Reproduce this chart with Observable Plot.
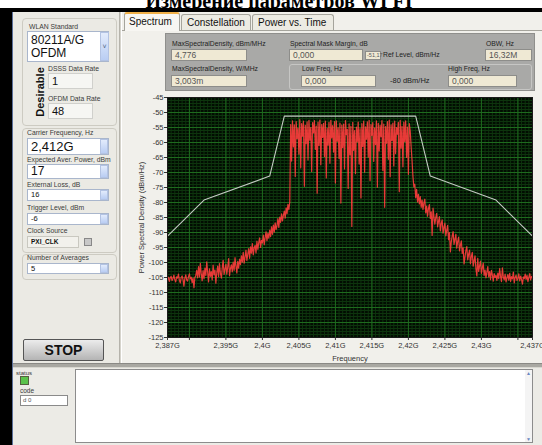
<!DOCTYPE html>
<html><head><meta charset="utf-8">
<script src="https://cdn.jsdelivr.net/npm/d3@7"></script>
<script src="https://cdn.jsdelivr.net/npm/@observablehq/plot@0.6"></script>
<style>
html,body{margin:0;padding:0}
body{width:542px;height:445px;overflow:hidden;position:relative;background:#ecebe6;font-family:"Liberation Sans",Arial,sans-serif;color:#222}
.a{position:absolute;box-sizing:border-box}
.l{position:absolute;font-size:6.8px;line-height:8px;color:#3a3a3a;white-space:nowrap}
.f{position:absolute;box-sizing:border-box;background:#fff;border:1px solid #a9b6cc;white-space:nowrap;overflow:hidden;color:#111;padding-left:3px}
.g{position:absolute;box-sizing:border-box;background:#efe9d4;border:1px solid #8d8d8a;font-size:8.5px;line-height:10px;padding-left:3px;color:#555;white-space:nowrap}
.spin{position:absolute;box-sizing:border-box;background:linear-gradient(#e3ecfc,#b9cdf3);border:1px solid #b3c3e3}
.tab{position:absolute;box-sizing:border-box;font-size:10px;line-height:15px;white-space:nowrap;color:#111;border:1px solid #a5a49c;border-bottom:none;border-radius:3px 3px 0 0}
</style></head><body>
<div class="a" style="left:0;top:0;width:542px;height:9px;background:#fff"></div>
<div class="a" style="left:8px;top:-9px;width:542px;height:20px;text-align:center;font:bold 20px/20px 'Liberation Serif',serif;color:#000;white-space:nowrap">Измерение параметров WI FI</div>
<div class="a" style="left:0;top:8px;width:542px;height:4px;background:#000"></div>
<div class="a" style="left:0;top:8px;width:12px;height:437px;background:#000"></div>
<div class="a" style="left:12px;top:12px;width:1px;height:433px;background:#5a6f9a"></div>

<div class="a" style="left:13px;top:12px;width:106px;height:351px;background:#ebeae4"></div>
<div class="a" style="left:119px;top:12px;width:3px;height:351px;background:#d6d4cc;border-left:1px solid #b5b3ab;border-right:1px solid #fff"></div>
<div class="a" style="left:122px;top:12px;width:420px;height:351px;background:#f1f0eb"></div>

<div class="a" style="left:22px;top:18px;width:95px;height:108px;border:1px solid #cdcbc2;border-radius:4px"></div>
<div class="a" style="left:22px;top:128px;width:95px;height:125px;border:1px solid #cdcbc2;border-radius:4px"></div>
<div class="a" style="left:22px;top:254px;width:95px;height:26px;border:1px solid #cdcbc2;border-radius:4px"></div>

<div class="l" style="left:29px;top:23px">WLAN Standard</div>
<div class="f" style="left:27px;top:31px;width:82px;height:31px;font-size:12px;line-height:13px;padding-top:2px">80211A/G<br>OFDM</div>
<div class="spin" style="left:100px;top:32px;width:9px;height:29px;font-size:7px;line-height:27px;text-align:center;color:#4d6185">˅</div>
<div class="a" style="left:9px;top:86px;width:62px;height:12px;transform:rotate(-90deg);text-align:center;font:bold 11px/12px 'Liberation Sans',Arial,sans-serif;color:#111">Desirable</div>
<div class="l" style="left:48px;top:65px">DSSS Data Rate</div>
<div class="f" style="left:48px;top:73px;width:45px;height:16px;background:#f6f6f3;border-color:#d0d0cc;font-size:11px;line-height:14px">1</div>
<div class="l" style="left:48px;top:95px">OFDM Data Rate</div>
<div class="f" style="left:48px;top:103px;width:45px;height:16px;background:#f6f6f3;border-color:#d0d0cc;font-size:11px;line-height:14px">48</div>

<div class="l" style="left:27px;top:129px">Carrier Frequency, Hz</div>
<div class="f" style="left:27px;top:138px;width:82px;height:17px;font-size:13px;line-height:15px">2,412G</div>
<div class="spin" style="left:100px;top:139px;width:8px;height:15px"></div>
<div class="l" style="left:27px;top:156px">Expected Aver. Power, dBm</div>
<div class="f" style="left:27px;top:164px;width:82px;height:15px;font-size:12px;line-height:13px">17</div>
<div class="spin" style="left:100px;top:165px;width:8px;height:13px"></div>
<div class="l" style="left:27px;top:181px">External Loss, dB</div>
<div class="f" style="left:27px;top:189px;width:82px;height:12px;font-size:7.5px;line-height:10px">16</div>
<div class="spin" style="left:100px;top:190px;width:8px;height:10px"></div>
<div class="l" style="left:27px;top:204px">Trigger Level, dBm</div>
<div class="f" style="left:27px;top:213px;width:82px;height:12px;font-size:7.5px;line-height:10px">-6</div>
<div class="spin" style="left:100px;top:214px;width:8px;height:10px"></div>
<div class="l" style="left:27px;top:227px">Clock Source</div>
<div class="f" style="left:27px;top:236px;width:52px;height:12px;background:#f2f1ec;border-color:#c9c8c0;font-weight:bold;font-size:6.5px;line-height:10px">PXI_CLK</div>
<div class="a" style="left:84px;top:238px;width:8px;height:8px;background:#c8c8c8;border:1px solid #888"></div>
<div class="l" style="left:27px;top:254px">Number of Averages</div>
<div class="f" style="left:27px;top:263px;width:82px;height:11px;font-size:7.5px;line-height:9px">5</div>
<div class="spin" style="left:100px;top:264px;width:8px;height:9px"></div>

<div class="a" style="left:23px;top:339px;width:81px;height:22px;background:linear-gradient(#ececec,#b4b4b4);border:1px solid #555;border-radius:2px;text-align:center;font:bold 14px/20px 'Liberation Sans',Arial,sans-serif;color:#111">STOP</div>

<div class="a" style="left:122px;top:30px;width:420px;height:1px;background:#a5a49c"></div>
<div class="tab" style="left:124px;top:12px;width:56px;height:19px;background:#f7f6f2;border-top:2px solid #f0b048;padding-left:4px">Spectrum</div>
<div class="tab" style="left:181px;top:14px;width:70px;height:16px;background:#ecebe3;padding-left:5px">Constellation</div>
<div class="tab" style="left:252px;top:14px;width:82px;height:16px;background:#ecebe3;padding-left:5px">Power vs. Time</div>

<div class="a" style="left:165px;top:33px;width:370px;height:58px;background:#a9a9a7;border:1px solid #8f8f8c"></div>
<div class="a" style="left:289px;top:64px;width:243px;height:26px;border:1px solid #c6c6c4;border-radius:3px"></div>
<div class="l" style="left:172px;top:40px;color:#222">MaxSpectralDensity, dBm/MHz</div>
<div class="l" style="left:290px;top:40px;color:#222">Spectral Mask Margin, dB</div>
<div class="l" style="left:486px;top:40px;color:#222">OBW, Hz</div>
<div class="g" style="left:171px;top:49px;width:76px;height:12px">4,776</div>
<div class="g" style="left:289px;top:49px;width:74px;height:12px">0,000</div>
<div class="g" style="left:365px;top:51px;width:16px;height:9px;font-size:5.5px;line-height:7px;padding-left:1px">-51,17</div>
<div class="l" style="left:383px;top:51px;color:#222">Ref Level, dBm/Hz</div>
<div class="g" style="left:485px;top:49px;width:47px;height:12px">16,32M</div>
<div class="l" style="left:172px;top:65px;color:#222">MaxSpectralDensity, W/MHz</div>
<div class="l" style="left:302px;top:65px;color:#222">Low Freq, Hz</div>
<div class="l" style="left:448px;top:65px;color:#222">High Freq, Hz</div>
<div class="g" style="left:171px;top:75px;width:76px;height:12px">3,003m</div>
<div class="g" style="left:301px;top:75px;width:75px;height:12px">0,000</div>
<div class="l" style="left:390px;top:77px;color:#222;font-size:7.5px">-80 dBm/Hz</div>
<div class="g" style="left:448px;top:75px;width:69px;height:12px">0,000</div>

<div id="chart" class="a" style="left:122px;top:88px"></div>

<div class="a" style="left:13px;top:363px;width:529px;height:5px;background:#a9a8a2;border-top:1px solid #8a8985;border-bottom:1px solid #d8d7d0"></div>
<div class="a" style="left:13px;top:368px;width:529px;height:77px;background:#ecebe6"></div>
<div class="l" style="left:16px;top:369px;font-size:6px">status</div>
<div class="a" style="left:20px;top:376px;width:9px;height:9px;border:1px solid #55603f;background:#5ac24a"></div>
<div class="l" style="left:20px;top:387px;font-size:6.5px">code</div>
<div class="a" style="left:20px;top:395px;width:48px;height:11px;background:#fff;border:1px solid #8a8a8a;font-size:6px;line-height:9px;padding-left:2px;color:#555">d 0</div>
<div class="a" style="left:75px;top:369px;width:458px;height:74px;background:#fff;border:1px solid #8c8c8c"></div>
<div class="a" style="left:525px;top:370px;width:7px;height:72px;background:#f4f4f4;font-size:5px;line-height:6px;color:#6a86c0;text-align:center">▲<div style="position:absolute;bottom:0;width:7px">▼</div></div>

<script>
// Frequency axis (GHz) and level axis (dBm/Hz)
const xMajor = [2.387, 2.39, 2.395, 2.4, 2.405, 2.41, 2.415, 2.42, 2.425, 2.43, 2.435, 2.437];
const xLabels = ["2,387G", "", "2,395G", "2,4G", "2,405G", "2,41G", "2,415G", "2,42G", "2,425G", "2,43G", "", "2,437G"];
const yMajor = [-45, -50, -55, -60, -65, -70, -75, -80, -85, -90, -95, -100, -105, -110, -115, -120, -125];

// Spectral mask (white line)
const maskFreq = [2.387, 2.392, 2.401, 2.403, 2.421, 2.423, 2.432, 2.437];
const maskLevel = [-91.2, -79.2, -71.2, -51.2, -51.2, -71.2, -79.2, -91.2];

// Measured power spectral density, bins of 0.125 MHz starting at 2.387 GHz
const freqStart = 2.387;
const freqStep = 0.000125;
const psd = [
-105.8, -104.9, -106.3, -105.1, -104.6, -106.0, -105.4, -104.2,
-105.7, -106.5, -104.8, -105.2, -103.9, -105.9, -106.8, -105.0,
-104.5, -105.6, -107.9, -105.3, -104.1, -105.8, -106.2, -104.7,
-103.8, -105.5, -104.9, -106.7, -105.2, -108.4, -105.0, -104.3,
-102.6, -105.1, -101.4, -104.8, -100.3, -103.9, -106.1, -102.7,
-105.4, -101.9, -104.3, -99.8, -103.2, -106.5, -102.1, -104.6,
-103.0, -105.8, -100.9, -104.1, -102.5, -106.9, -103.4, -101.2,
-104.7, -100.4, -103.6, -105.2, -101.8, -99.3, -104.0, -102.2,
-100.6, -103.9, -101.5, -98.7, -104.4, -102.0, -100.8, -103.1,
-99.9, -102.6, -98.4, -101.2, -103.5, -99.6, -101.9, -98.9,
-100.7, -97.8, -99.9, -96.6, -100.2, -98.1, -95.9, -99.3,
-97.2, -95.4, -98.6, -94.8, -96.9, -93.7, -97.5, -95.1,
-94.3, -96.8, -92.9, -95.6, -93.4, -91.8, -95.0, -92.6,
-93.5, -90.9, -94.1, -91.6, -89.8, -92.7, -90.3, -91.9,
-89.2, -91.4, -88.1, -90.6, -87.5, -89.9, -86.8, -89.0,
-87.7, -85.4, -88.3, -84.9, -86.6, -83.8, -86.1, -84.3,
-82.9, -85.2, -81.8, -83.7, -80.6, -82.4, -79.9, -54.0,
-66.2, -52.8, -61.5, -54.1, -71.3, -53.0, -58.7, -55.2,
-63.9, -52.4, -68.5, -53.7, -57.9, -52.9, -74.6, -54.3,
-60.4, -53.1, -65.8, -52.6, -59.2, -55.0, -69.7, -53.4,
-56.8, -52.7, -62.3, -54.5, -76.9, -53.2, -61.0, -52.5,
-67.4, -54.0, -58.3, -53.6, -64.7, -52.9, -71.8, -55.3,
-60.9, -53.3, -66.9, -52.6, -58.5, -54.4, -63.2, -53.0,
-73.5, -52.8, -59.6, -55.1, -65.3, -53.5, -80.2, -54.2,
-61.7, -53.9, -68.8, -52.7, -57.4, -55.6, -75.3, -53.8,
-64.1, -54.6, -88.0, -53.3, -62.6, -56.0, -70.4, -54.9,
-59.8, -53.2, -67.2, -55.4, -78.5, -53.7, -61.3, -52.9,
-69.9, -54.8, -58.9, -53.1, -64.9, -52.6, -72.7, -54.0,
-57.6, -53.4, -66.3, -55.2, -60.7, -52.8, -74.9, -53.6,
-62.8, -54.3, -58.1, -52.7, -69.3, -53.9, -81.6, -54.7,
-60.2, -53.0, -65.6, -52.5, -71.4, -54.1, -59.3, -53.5,
-67.8, -52.9, -63.7, -55.0, -57.2, -53.3, -76.4, -52.6,
-61.9, -54.6, -68.1, -53.2, -59.7, -52.8, -65.0, -54.9,
-70.6, -53.7, -56.2, -61.5, -66.0, -71.4, -74.8, -73.9,
-78.4, -75.6, -79.8, -77.3, -80.5, -78.0, -81.6, -79.2,
-82.3, -80.1, -78.9, -83.5, -81.2, -84.6, -82.0, -80.7,
-85.3, -83.1, -91.0, -81.9, -84.8, -87.2, -85.0, -83.6,
-88.1, -86.3, -84.7, -89.5, -87.0, -85.8, -90.2, -88.4,
-86.9, -91.1, -89.3, -87.6, -92.4, -90.0, -96.5, -93.1,
-91.2, -89.7, -94.0, -92.3, -90.6, -95.2, -93.0, -91.5,
-96.1, -94.2, -92.8, -97.0, -95.1, -100.5, -98.2, -96.0,
-94.7, -99.1, -97.3, -95.9, -100.4, -98.0, -96.6, -101.2,
-99.4, -97.8, -102.1, -104.5, -98.6, -103.0, -101.1, -99.5,
-103.6, -101.9, -100.2, -104.3, -102.5, -105.1, -103.2, -101.4,
-104.8, -103.0, -105.7, -102.6, -104.1, -106.2, -103.7, -105.0,
-104.3, -106.0, -103.5, -105.4, -102.0, -104.6, -106.4, -101.8,
-104.9, -105.8, -103.9, -106.5, -105.1, -104.0, -105.9, -103.6,
-106.3, -104.7, -105.5, -103.2, -106.8, -105.0, -104.2, -106.0,
-105.3, -103.8, -106.1, -104.5, -105.7, -107.2, -104.8, -105.4,
-103.9, -105.6, -104.3, -106.4, -105.0, -103.7, -105.8, -104.6,
-105.2
];

const spectrum = psd.map((v, i) => ({f: freqStart + i * freqStep, p: v}));
const mask = maskFreq.map((f, i) => ({f, p: maskLevel[i]}));
const xMinor = d3.range(0, 101).map(k => 2.387 + k * 0.0005);
const yMinor = d3.range(-125, -44, 1);

const chart = Plot.plot({
  width: 420, height: 274,
  marginLeft: 45, marginRight: 10, marginTop: 9, marginBottom: 25,
  style: {background: "transparent", fontFamily: "'Liberation Sans', Arial, sans-serif", fontSize: "7.5px", color: "#333", overflow: "visible"},
  x: {domain: [2.387, 2.437]},
  y: {domain: [-125, -45]},
  marks: [
    Plot.frame({fill: "#020d02"}),
    Plot.ruleX(xMinor, {stroke: "#0d340d", strokeWidth: 1}),
    Plot.ruleY(yMinor, {stroke: "#0d340d", strokeWidth: 1}),
    Plot.ruleX(xMajor, {stroke: "#1e6a1e", strokeWidth: 1}),
    Plot.ruleY(yMajor, {stroke: "#1e6a1e", strokeWidth: 1}),
    Plot.line(spectrum, {x: "f", y: "p", stroke: "#ff3d3d", strokeWidth: 1.2, strokeOpacity: 0.9}),
    Plot.line(mask, {x: "f", y: "p", stroke: "#c3cbc3", strokeWidth: 1.1}),
    Plot.frame({stroke: "#1a1a1a"}),
    Plot.axisX({ticks: xMajor, tickFormat: d => xLabels[xMajor.indexOf(d)] ?? "", tickSize: 3, tickPadding: 2,
      label: "Frequency", labelAnchor: "center", labelArrow: "none", labelOffset: 23}),
    Plot.axisY({ticks: yMajor, tickFormat: d => String(d), tickSize: 3, tickPadding: 1,
      label: "Power Spectral Density (dBm/Hz)", labelAnchor: "center", labelArrow: "none", labelOffset: 29})
  ]
});
document.getElementById("chart").appendChild(chart);
</script>
</body></html>
